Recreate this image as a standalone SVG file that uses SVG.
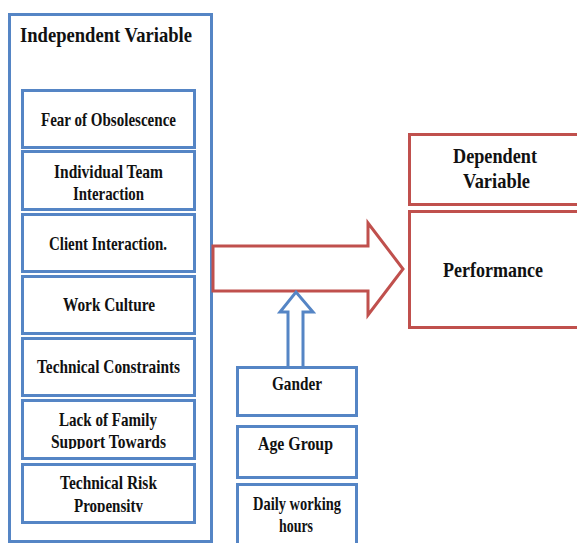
<svg xmlns="http://www.w3.org/2000/svg" width="577" height="543" viewBox="0 0 577 543">
<defs>
<style>
.b{fill:#fff;stroke:#5585C5;stroke-width:3}
.r{fill:#fff;stroke:#C0504D;stroke-width:3}
text{font-family:"Liberation Serif","DejaVu Serif",serif;font-weight:bold;fill:#111;}
.s{font-size:19px}
.t{font-size:21px}
</style>
<clipPath id="c1"><rect x="20" y="400" width="180" height="49"/></clipPath>
<clipPath id="c2"><rect x="20" y="464" width="180" height="48"/></clipPath>
</defs>
<rect width="577" height="543" fill="#fff"/>
<g id="independent">
<rect class="b" x="9.5" y="14.5" width="202" height="527"/>
<text class="t" x="20" y="42" textLength="172" lengthAdjust="spacingAndGlyphs">Independent Variable</text>
</g>
<g id="fear">
<rect class="b" x="22.5" y="90.5" width="172" height="57"/>
<text class="s" x="41" y="126" textLength="135" lengthAdjust="spacingAndGlyphs">Fear of Obsolescence</text>
</g>
<g id="team">
<rect class="b" x="22.5" y="151.5" width="172" height="58"/>
<text class="s" x="54" y="178" textLength="109" lengthAdjust="spacingAndGlyphs">Individual Team</text>
<text class="s" x="73" y="200" textLength="71" lengthAdjust="spacingAndGlyphs">Interaction</text>
</g>
<g id="client">
<rect class="b" x="22.5" y="214.5" width="172" height="57"/>
<text class="s" x="49" y="250" textLength="118" lengthAdjust="spacingAndGlyphs">Client Interaction.</text>
</g>
<g id="culture">
<rect class="b" x="22.5" y="276.5" width="172" height="57"/>
<text class="s" x="63" y="311" textLength="92" lengthAdjust="spacingAndGlyphs">Work Culture</text>
</g>
<g id="constraints">
<rect class="b" x="22.5" y="338.5" width="172" height="57"/>
<text class="s" x="37" y="373" textLength="143" lengthAdjust="spacingAndGlyphs">Technical Constraints</text>
</g>
<g id="family">
<rect class="b" x="22.5" y="400.5" width="172" height="58"/>
<g clip-path="url(#c1)">
<text class="s" x="59" y="426" textLength="98" lengthAdjust="spacingAndGlyphs">Lack of Family</text>
<text class="s" x="51" y="448" textLength="115" lengthAdjust="spacingAndGlyphs">Support Towards</text>
</g>
</g>
<g id="risk">
<rect class="b" x="22.5" y="464.5" width="172" height="58"/>
<g clip-path="url(#c2)">
<text class="s" x="60" y="489" textLength="97" lengthAdjust="spacingAndGlyphs">Technical Risk</text>
<text class="s" x="74" y="512" textLength="69" lengthAdjust="spacingAndGlyphs">Propensity</text>
</g>
</g>
<g id="connectors">
<path class="r" d="M213,246 L368,246 L368,223 L403,269 L368,315 L368,291 L213,291 Z"/>
<path class="b" d="M288,366 L288,312 L280,312 L296,292 L313,312 L303,312 L303,366"/>
</g>
<g id="gander">
<rect class="b" x="237.5" y="367.5" width="119" height="48"/>
<text class="s" x="272" y="390" textLength="50" lengthAdjust="spacingAndGlyphs">Gander</text>
</g>
<g id="age">
<rect class="b" x="237.5" y="426.5" width="119" height="51"/>
<text class="s" x="258" y="450" textLength="75" lengthAdjust="spacingAndGlyphs">Age Group</text>
</g>
<g id="daily">
<rect class="b" x="237.5" y="484.5" width="119" height="70"/>
<text class="s" x="253" y="510" textLength="88" lengthAdjust="spacingAndGlyphs">Daily working</text>
<text class="s" x="279" y="532" textLength="34" lengthAdjust="spacingAndGlyphs">hours</text>
</g>
<g id="dependent">
<rect class="r" x="409.5" y="134.5" width="180" height="70"/>
<text class="t" x="453" y="163" textLength="84" lengthAdjust="spacingAndGlyphs">Dependent</text>
<text class="t" x="463" y="188" textLength="67" lengthAdjust="spacingAndGlyphs">Variable</text>
</g>
<g id="performance">
<rect class="r" x="409.5" y="211.5" width="180" height="116"/>
<text class="t" x="443" y="277" textLength="100" lengthAdjust="spacingAndGlyphs">Performance</text>
</g>
</svg>
